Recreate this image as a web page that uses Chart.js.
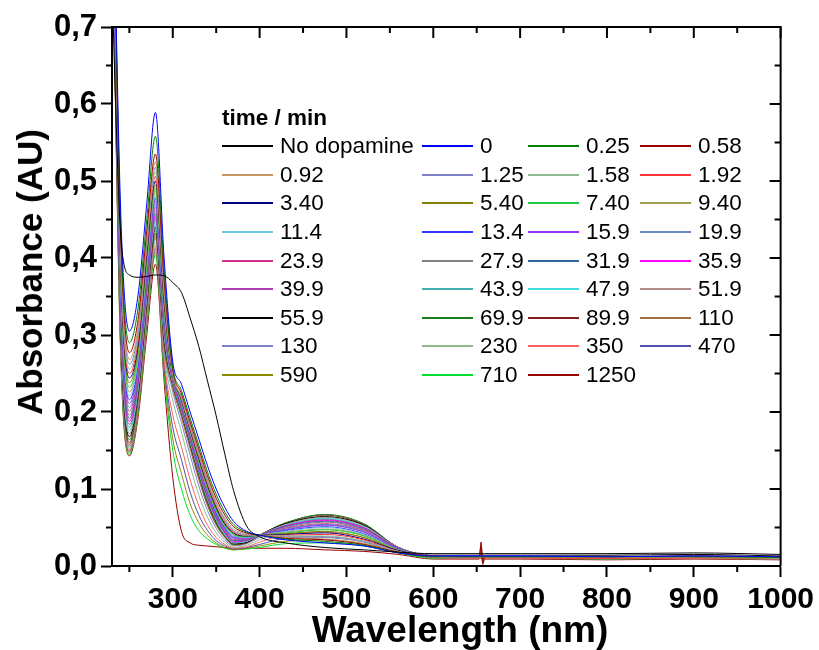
<!DOCTYPE html>
<html>
<head>
<meta charset="utf-8">
<script src="https://cdn.jsdelivr.net/npm/chart.js@4.4.1/dist/chart.umd.min.js"></script>
<style>
  body { margin: 0; background: #fff; }
  #wrap { position: relative; width: 819px; height: 650px; font-family: "Liberation Sans", Arial, sans-serif; color: #000; }
  #legend { position: absolute; left: 222px; top: 104px; font-size: 22.5px; }
  #legend .title { font-weight: bold; height: 28px; line-height: 28px; }
  #legend .grid { display: grid; grid-template-columns: 200px 106px 112px 120px; grid-auto-rows: 28.6px; }
  #legend .item { display: flex; align-items: center; white-space: nowrap; }
  #legend .swatch { width: 51px; height: 2px; margin-right: 7px; }
  .axis-title { position: absolute; font-weight: bold; white-space: nowrap; transform: translate(-50%, -50%); }
  #ytitle { left: 30px; top: 272px; font-size: 35px; transform: translate(-50%, -50%) rotate(-90deg); }
  #xtitle { left: 460px; top: 630px; font-size: 37px; }
</style>
</head>
<body>
<div id="wrap">
  <canvas id="chart" width="819" height="650"></canvas>
  <div id="legend"></div>
  <div class="axis-title" id="ytitle">Absorbance (AU)</div>
  <div class="axis-title" id="xtitle">Wavelength (nm)</div>
</div>
<script>
// Longueurs d'onde communes (nm)
const wavelengths = [230, 240, 250, 260, 270, 280, 290, 300, 310, 320, 330, 340, 350, 360, 370, 385, 400, 430, 475, 520, 560, 600, 653, 655, 657, 659, 700, 800, 900, 1000];

// Absorbance, une liste par série
const absNoDopamine = [0.75, 0.43, 0.378, 0.375, 0.376, 0.378, 0.377, 0.368, 0.355, 0.322, 0.285, 0.240, 0.195, 0.145, 0.098, 0.052, 0.038, 0.030, 0.024, 0.021, 0.018, 0.016, 0.016, 0.016, 0.016, 0.016, 0.016, 0.016, 0.017, 0.015];
const abs0 = [0.98, 0.46, 0.305, 0.352, 0.470, 0.589, 0.400, 0.265, 0.236, 0.200, 0.165, 0.130, 0.100, 0.076, 0.058, 0.045, 0.040, 0.034, 0.030, 0.026, 0.017, 0.013, 0.013, 0.013, 0.013, 0.013, 0.013, 0.012, 0.013, 0.012];
const abs0_25 = [0.97, 0.44, 0.290, 0.335, 0.450, 0.558, 0.385, 0.258, 0.228, 0.192, 0.157, 0.122, 0.093, 0.070, 0.054, 0.044, 0.040, 0.035, 0.032, 0.027, 0.017, 0.012, 0.012, 0.012, 0.012, 0.012, 0.012, 0.012, 0.012, 0.011];
const abs0_58 = [0.96, 0.43, 0.277, 0.320, 0.435, 0.535, 0.372, 0.255, 0.224, 0.187, 0.152, 0.117, 0.088, 0.066, 0.051, 0.043, 0.040, 0.036, 0.034, 0.028, 0.018, 0.013, 0.012, 0.026, 0.005, 0.012, 0.012, 0.012, 0.013, 0.012];
const abs0_92 = [0.96, 0.42, 0.268, 0.310, 0.428, 0.525, 0.366, 0.252, 0.221, 0.184, 0.148, 0.113, 0.084, 0.062, 0.048, 0.042, 0.040, 0.037, 0.035, 0.029, 0.018, 0.012, 0.012, 0.012, 0.012, 0.012, 0.012, 0.011, 0.012, 0.011];
const abs1_25 = [0.95, 0.41, 0.262, 0.304, 0.422, 0.518, 0.360, 0.251, 0.219, 0.182, 0.146, 0.111, 0.082, 0.060, 0.046, 0.041, 0.040, 0.038, 0.037, 0.031, 0.018, 0.013, 0.012, 0.012, 0.012, 0.012, 0.012, 0.012, 0.012, 0.012];
const abs1_58 = [0.95, 0.40, 0.256, 0.298, 0.416, 0.512, 0.355, 0.250, 0.218, 0.180, 0.144, 0.109, 0.080, 0.058, 0.045, 0.040, 0.040, 0.039, 0.039, 0.032, 0.019, 0.012, 0.011, 0.011, 0.011, 0.011, 0.011, 0.011, 0.012, 0.010];
const abs1_92 = [0.95, 0.395, 0.250, 0.292, 0.411, 0.506, 0.350, 0.249, 0.217, 0.178, 0.142, 0.107, 0.078, 0.057, 0.044, 0.040, 0.040, 0.040, 0.041, 0.034, 0.019, 0.012, 0.011, 0.020, 0.006, 0.011, 0.011, 0.010, 0.011, 0.010];
const abs3_40 = [0.94, 0.39, 0.244, 0.286, 0.405, 0.500, 0.345, 0.248, 0.216, 0.177, 0.140, 0.105, 0.076, 0.055, 0.043, 0.039, 0.040, 0.041, 0.043, 0.035, 0.020, 0.013, 0.012, 0.012, 0.012, 0.012, 0.012, 0.012, 0.012, 0.011];
const abs5_40 = [0.94, 0.385, 0.238, 0.281, 0.400, 0.495, 0.341, 0.247, 0.215, 0.176, 0.138, 0.103, 0.075, 0.054, 0.042, 0.039, 0.040, 0.042, 0.045, 0.037, 0.020, 0.012, 0.012, 0.012, 0.012, 0.012, 0.012, 0.011, 0.012, 0.011];
const abs7_40 = [0.94, 0.38, 0.232, 0.276, 0.395, 0.490, 0.337, 0.246, 0.214, 0.175, 0.137, 0.102, 0.073, 0.053, 0.041, 0.038, 0.040, 0.043, 0.047, 0.039, 0.020, 0.012, 0.011, 0.011, 0.011, 0.011, 0.011, 0.011, 0.011, 0.010];
const abs9_40 = [0.93, 0.375, 0.226, 0.271, 0.391, 0.486, 0.333, 0.245, 0.213, 0.174, 0.135, 0.100, 0.072, 0.052, 0.040, 0.038, 0.040, 0.044, 0.048, 0.040, 0.021, 0.013, 0.012, 0.012, 0.012, 0.012, 0.012, 0.012, 0.012, 0.011];
const abs11_4 = [0.93, 0.37, 0.221, 0.267, 0.387, 0.482, 0.330, 0.245, 0.212, 0.173, 0.134, 0.099, 0.071, 0.051, 0.039, 0.037, 0.040, 0.045, 0.050, 0.041, 0.021, 0.013, 0.012, 0.012, 0.012, 0.012, 0.012, 0.012, 0.013, 0.012];
const abs13_4 = [0.93, 0.365, 0.216, 0.263, 0.383, 0.478, 0.327, 0.244, 0.211, 0.172, 0.132, 0.098, 0.069, 0.050, 0.038, 0.037, 0.040, 0.046, 0.051, 0.042, 0.021, 0.013, 0.013, 0.013, 0.013, 0.013, 0.013, 0.012, 0.013, 0.012];
const abs15_9 = [0.92, 0.36, 0.211, 0.259, 0.379, 0.474, 0.324, 0.243, 0.210, 0.171, 0.131, 0.096, 0.068, 0.049, 0.037, 0.036, 0.040, 0.047, 0.053, 0.044, 0.022, 0.012, 0.012, 0.012, 0.012, 0.012, 0.012, 0.011, 0.012, 0.011];
const abs19_9 = [0.92, 0.355, 0.206, 0.255, 0.375, 0.470, 0.321, 0.243, 0.209, 0.170, 0.130, 0.095, 0.067, 0.048, 0.036, 0.036, 0.040, 0.048, 0.054, 0.045, 0.022, 0.013, 0.012, 0.012, 0.012, 0.012, 0.012, 0.012, 0.012, 0.011];
const abs23_9 = [0.92, 0.35, 0.201, 0.251, 0.371, 0.466, 0.318, 0.242, 0.208, 0.168, 0.128, 0.094, 0.066, 0.047, 0.035, 0.035, 0.040, 0.049, 0.055, 0.046, 0.022, 0.012, 0.012, 0.012, 0.012, 0.012, 0.012, 0.011, 0.012, 0.010];
const abs27_9 = [0.91, 0.345, 0.196, 0.247, 0.367, 0.462, 0.315, 0.241, 0.207, 0.167, 0.127, 0.092, 0.065, 0.046, 0.034, 0.035, 0.040, 0.050, 0.057, 0.047, 0.022, 0.013, 0.013, 0.013, 0.013, 0.013, 0.013, 0.012, 0.013, 0.012];
const abs31_9 = [0.91, 0.34, 0.192, 0.243, 0.363, 0.458, 0.312, 0.241, 0.206, 0.166, 0.126, 0.091, 0.064, 0.045, 0.033, 0.034, 0.040, 0.051, 0.058, 0.048, 0.023, 0.013, 0.012, 0.012, 0.012, 0.012, 0.012, 0.012, 0.012, 0.011];
const abs35_9 = [0.91, 0.336, 0.188, 0.240, 0.360, 0.455, 0.310, 0.240, 0.205, 0.165, 0.125, 0.090, 0.063, 0.044, 0.032, 0.034, 0.040, 0.052, 0.059, 0.049, 0.023, 0.012, 0.012, 0.012, 0.012, 0.012, 0.012, 0.011, 0.012, 0.011];
const abs39_9 = [0.90, 0.332, 0.184, 0.237, 0.357, 0.452, 0.307, 0.240, 0.204, 0.164, 0.124, 0.089, 0.062, 0.043, 0.031, 0.033, 0.040, 0.052, 0.060, 0.050, 0.023, 0.013, 0.012, 0.012, 0.012, 0.012, 0.012, 0.012, 0.012, 0.011];
const abs43_9 = [0.90, 0.328, 0.180, 0.234, 0.354, 0.449, 0.305, 0.239, 0.203, 0.163, 0.123, 0.088, 0.061, 0.042, 0.031, 0.033, 0.040, 0.053, 0.061, 0.050, 0.023, 0.013, 0.013, 0.013, 0.013, 0.013, 0.013, 0.012, 0.013, 0.012];
const abs47_9 = [0.90, 0.324, 0.176, 0.231, 0.351, 0.446, 0.302, 0.238, 0.202, 0.162, 0.122, 0.087, 0.060, 0.041, 0.030, 0.032, 0.040, 0.053, 0.062, 0.051, 0.023, 0.012, 0.012, 0.012, 0.012, 0.012, 0.012, 0.011, 0.012, 0.011];
const abs51_9 = [0.89, 0.32, 0.172, 0.228, 0.348, 0.443, 0.300, 0.238, 0.201, 0.161, 0.121, 0.086, 0.059, 0.040, 0.030, 0.032, 0.040, 0.054, 0.063, 0.052, 0.024, 0.013, 0.012, 0.012, 0.012, 0.012, 0.012, 0.012, 0.012, 0.011];
const abs55_9 = [0.89, 0.316, 0.168, 0.225, 0.345, 0.440, 0.297, 0.237, 0.200, 0.160, 0.120, 0.085, 0.058, 0.040, 0.029, 0.031, 0.040, 0.055, 0.064, 0.053, 0.024, 0.014, 0.014, 0.014, 0.014, 0.014, 0.014, 0.014, 0.015, 0.013];
const abs69_9 = [0.89, 0.312, 0.164, 0.222, 0.342, 0.436, 0.294, 0.236, 0.199, 0.158, 0.118, 0.083, 0.056, 0.039, 0.028, 0.031, 0.040, 0.056, 0.067, 0.055, 0.024, 0.013, 0.012, 0.012, 0.012, 0.012, 0.012, 0.012, 0.012, 0.011];
const abs89_9 = [0.88, 0.308, 0.160, 0.219, 0.338, 0.432, 0.290, 0.234, 0.197, 0.156, 0.116, 0.081, 0.055, 0.038, 0.028, 0.030, 0.040, 0.056, 0.066, 0.054, 0.024, 0.012, 0.012, 0.024, 0.004, 0.012, 0.012, 0.011, 0.012, 0.011];
const abs110 = [0.88, 0.304, 0.157, 0.216, 0.334, 0.428, 0.286, 0.231, 0.193, 0.152, 0.112, 0.078, 0.053, 0.037, 0.027, 0.030, 0.039, 0.055, 0.064, 0.053, 0.024, 0.013, 0.012, 0.012, 0.012, 0.012, 0.012, 0.012, 0.012, 0.011];
const abs130 = [0.88, 0.30, 0.155, 0.213, 0.330, 0.425, 0.282, 0.226, 0.186, 0.144, 0.104, 0.072, 0.049, 0.034, 0.026, 0.029, 0.037, 0.052, 0.060, 0.050, 0.023, 0.012, 0.012, 0.012, 0.012, 0.012, 0.012, 0.011, 0.012, 0.010];
const abs230 = [0.87, 0.296, 0.153, 0.210, 0.326, 0.420, 0.275, 0.215, 0.174, 0.130, 0.092, 0.063, 0.043, 0.031, 0.024, 0.027, 0.034, 0.047, 0.053, 0.044, 0.022, 0.012, 0.011, 0.011, 0.011, 0.011, 0.011, 0.011, 0.011, 0.010];
const abs350 = [0.87, 0.292, 0.151, 0.207, 0.322, 0.416, 0.268, 0.196, 0.155, 0.112, 0.078, 0.053, 0.037, 0.028, 0.023, 0.025, 0.031, 0.041, 0.044, 0.037, 0.020, 0.011, 0.010, 0.010, 0.010, 0.010, 0.010, 0.010, 0.010, 0.009];
const abs470 = [0.87, 0.288, 0.149, 0.204, 0.318, 0.412, 0.262, 0.180, 0.138, 0.096, 0.066, 0.046, 0.033, 0.026, 0.022, 0.024, 0.028, 0.036, 0.038, 0.032, 0.019, 0.011, 0.010, 0.010, 0.010, 0.010, 0.010, 0.010, 0.010, 0.009];
const abs590 = [0.86, 0.285, 0.147, 0.201, 0.314, 0.408, 0.256, 0.165, 0.120, 0.081, 0.056, 0.040, 0.030, 0.024, 0.021, 0.023, 0.026, 0.032, 0.034, 0.029, 0.018, 0.011, 0.010, 0.010, 0.010, 0.010, 0.010, 0.010, 0.010, 0.009];
const abs710 = [0.86, 0.282, 0.145, 0.198, 0.310, 0.404, 0.250, 0.150, 0.100, 0.066, 0.046, 0.035, 0.028, 0.023, 0.021, 0.022, 0.024, 0.029, 0.030, 0.026, 0.017, 0.010, 0.010, 0.022, 0.005, 0.010, 0.010, 0.009, 0.010, 0.009];
const abs1250 = [0.85, 0.275, 0.143, 0.193, 0.300, 0.392, 0.240, 0.115, 0.045, 0.030, 0.027, 0.026, 0.025, 0.024, 0.023, 0.023, 0.023, 0.023, 0.021, 0.019, 0.015, 0.009, 0.009, 0.031, 0.002, 0.009, 0.009, 0.008, 0.009, 0.008];

// Légende (temps / min) et séries dans le même ordre
const timeLabels = ["No dopamine", "0", "0.25", "0.58", "0.92", "1.25", "1.58", "1.92", "3.40", "5.40", "7.40", "9.40",
  "11.4", "13.4", "15.9", "19.9", "23.9", "27.9", "31.9", "35.9", "39.9", "43.9", "47.9", "51.9",
  "55.9", "69.9", "89.9", "110", "130", "230", "350", "470", "590", "710", "1250"];
const seriesValues = [absNoDopamine, abs0, abs0_25, abs0_58, abs0_92, abs1_25, abs1_58, abs1_92, abs3_40, abs5_40, abs7_40, abs9_40,
  abs11_4, abs13_4, abs15_9, abs19_9, abs23_9, abs27_9, abs31_9, abs35_9, abs39_9, abs43_9, abs47_9, abs51_9,
  abs55_9, abs69_9, abs89_9, abs110, abs130, abs230, abs350, abs470, abs590, abs710, abs1250];
const lineColors = ["#000000", "#0000ff", "#008000", "#990000", "#c89664", "#8080c8", "#8fbc8f", "#ff3333", "#000080", "#808000", "#22cc44", "#a0a050",
  "#70c8e0", "#3333ff", "#9933ff", "#6688bb", "#d0308f", "#808080", "#336699", "#ff00ff", "#b040b0", "#40b0b0", "#44dddd", "#b08c88",
  "#000000", "#1a801a", "#802020", "#a07040", "#7f7fc8", "#90b890", "#ff6060", "#5050a8", "#8c8c00", "#00dd33", "#990000"];

// Graduations
const xTickValues = [300, 400, 500, 600, 700, 800, 900, 1000];
const yTickValues = [0, 0.1, 0.2, 0.3, 0.4, 0.5, 0.6, 0.7];
const yTickLabels = ["0,0", "0,1", "0,2", "0,3", "0,4", "0,5", "0,6", "0,7"];

const FONT = "'Liberation Sans', Arial, sans-serif";

// Cadre: bords haut/droite + petites graduations
const axisFrame = {
  id: "axisFrame",
  afterDraw(chart) {
    const { ctx, chartArea: a, scales: { x, y } } = chart;
    ctx.save();
    ctx.strokeStyle = "#000";
    ctx.lineWidth = 2;
    ctx.beginPath();
    ctx.moveTo(a.left, a.top);
    ctx.lineTo(a.right, a.top);
    ctx.lineTo(a.right, a.bottom);
    ctx.stroke();
    ctx.beginPath();
    xTickValues.forEach(v => {
      const px = x.getPixelForValue(v);
      ctx.moveTo(px, a.top); ctx.lineTo(px, a.top + 11);
      const pm = x.getPixelForValue(v - 50);
      ctx.moveTo(pm, a.top); ctx.lineTo(pm, a.top + 6);
      ctx.moveTo(pm, a.bottom); ctx.lineTo(pm, a.bottom + 6);
    });
    yTickValues.forEach((v, i) => {
      const py = y.getPixelForValue(v);
      ctx.moveTo(a.right, py); ctx.lineTo(a.right - 11, py);
      if (i < yTickValues.length - 1) {
        const pm = y.getPixelForValue(v + 0.05);
        ctx.moveTo(a.right, pm); ctx.lineTo(a.right - 6, pm);
        ctx.moveTo(a.left, pm); ctx.lineTo(a.left - 6, pm);
      }
    });
    ctx.stroke();
    ctx.restore();
  }
};

const datasets = seriesValues.map((vals, i) => ({
  label: timeLabels[i],
  data: vals.map((v, j) => ({ x: wavelengths[j], y: v })),
  borderColor: lineColors[i],
  borderWidth: 1,
  pointRadius: 0,
  fill: false,
  cubicInterpolationMode: "monotone"
}));

new Chart(document.getElementById("chart"), {
  type: "line",
  data: { datasets: datasets },
  options: {
    responsive: false,
    animation: false,
    layout: { padding: { top: 27, right: 38, left: 0, bottom: 0 } },
    plugins: { legend: { display: false }, tooltip: { enabled: false } },
    scales: {
      x: {
        type: "linear", min: 230, max: 1000,
        afterBuildTicks: s => { s.ticks = xTickValues.map(v => ({ value: v })); },
        afterFit: s => { s.height = 84; },
        ticks: { color: "#000", font: { family: FONT, size: 30, weight: "bold" }, padding: 5, maxRotation: 0, callback: v => String(v) },
        grid: { drawOnChartArea: false, tickLength: 11, tickWidth: 2, tickColor: "#000" },
        border: { display: true, color: "#000", width: 2 }
      },
      y: {
        min: 0, max: 0.7,
        afterBuildTicks: s => { s.ticks = yTickValues.map(v => ({ value: v })); },
        afterFit: s => { s.width = 112; },
        ticks: { color: "#000", font: { family: FONT, size: 31, weight: "bold" }, padding: 4, callback: (v, i) => yTickLabels[i] },
        grid: { drawOnChartArea: false, tickLength: 11, tickWidth: 2, tickColor: "#000" },
        border: { display: true, color: "#000", width: 2 }
      }
    }
  },
  plugins: [axisFrame]
});

// Légende HTML en 4 colonnes
const legend = document.getElementById("legend");
let html = '<div class="title">time / min</div><div class="grid">';
timeLabels.forEach((t, i) => {
  html += '<div class="item"><span class="swatch" style="background:' + lineColors[i] + '"></span>' + t + '</div>';
});
legend.innerHTML = html + "</div>";
</script>
</body>
</html>
